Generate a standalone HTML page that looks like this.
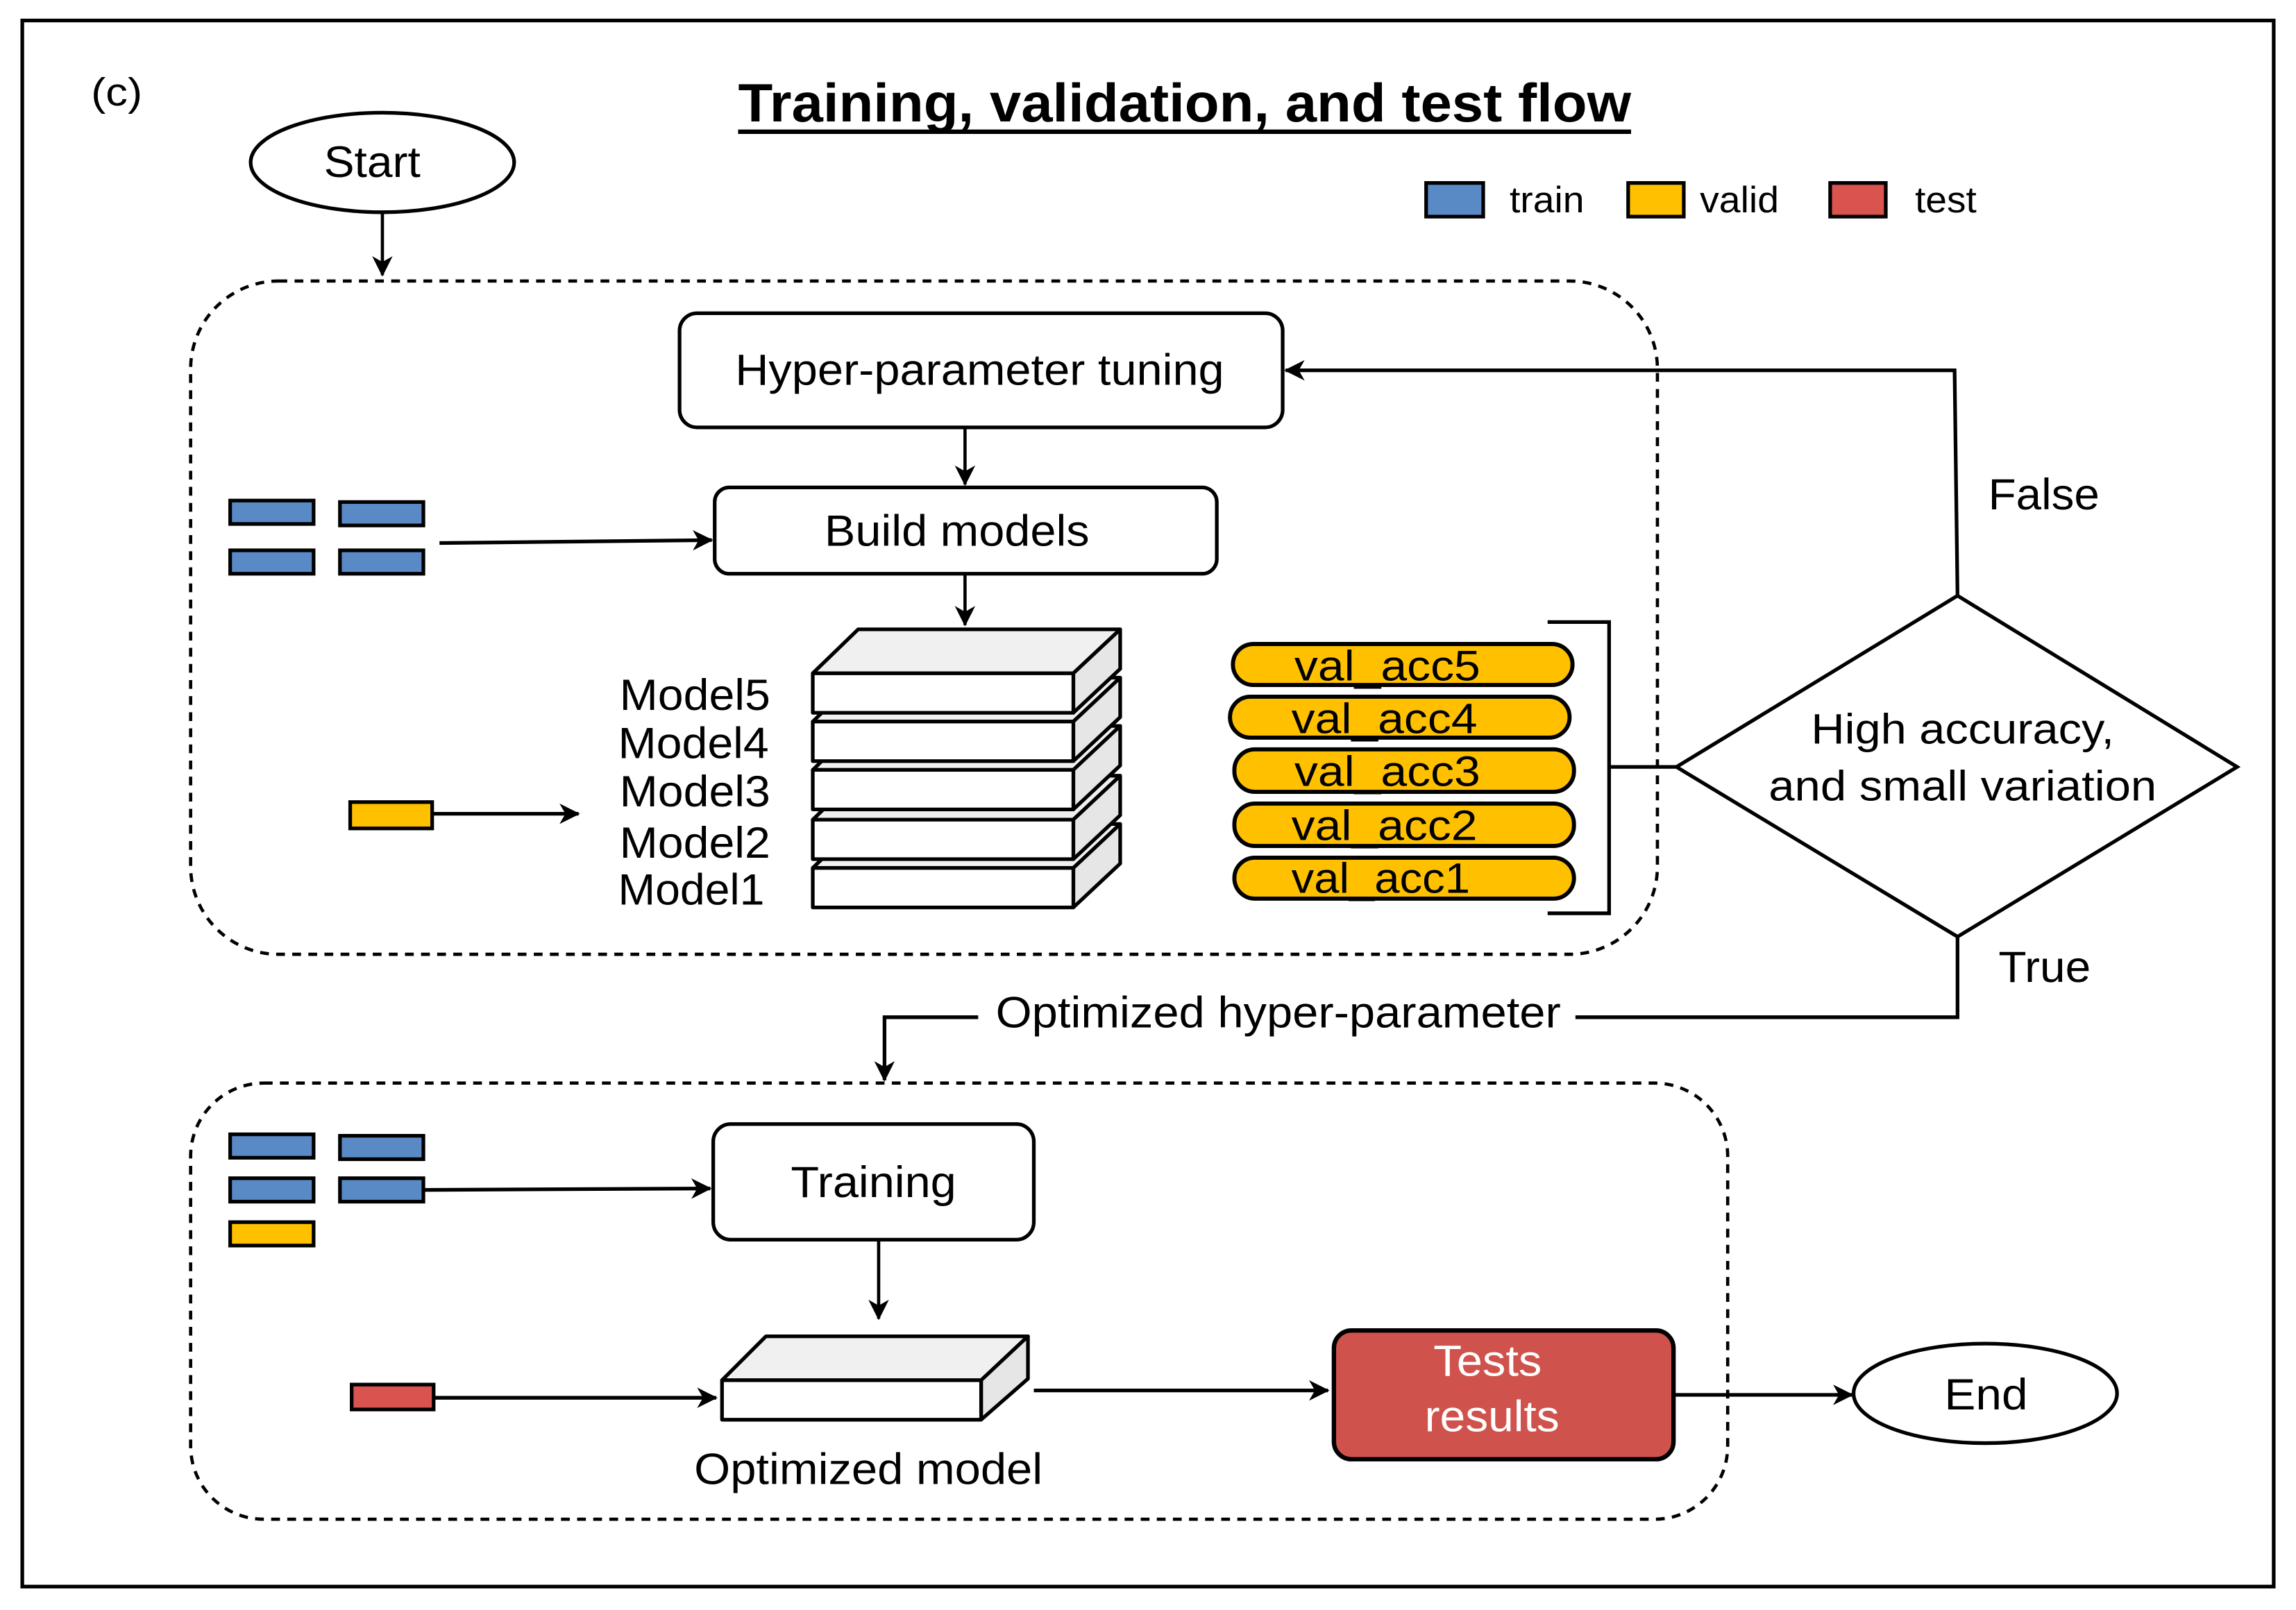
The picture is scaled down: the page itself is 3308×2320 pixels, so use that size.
<!DOCTYPE html>
<html><head><meta charset="utf-8"><style>html,body{margin:0;padding:0;background:#fff}svg{display:block}</style></head>
<body>
<svg width="3308" height="2320" viewBox="0 0 1568 1100" xmlns="http://www.w3.org/2000/svg" font-family="Liberation Sans, Arial, sans-serif">
<defs>
<marker id="a" markerWidth="14" markerHeight="14" refX="13" refY="7" orient="auto" markerUnits="userSpaceOnUse"><path d="M0,0 L14,7 L0,14 L4,7 z" fill="#000"/></marker>
</defs>
<rect x="0" y="0" width="1568" height="1100" fill="#fff"/>
<rect x="15" y="14" width="1538" height="1070" fill="none" stroke="#000" stroke-width="2.5"/>
<text x="62" y="72" font-size="27" textLength="35" lengthAdjust="spacingAndGlyphs">(c)</text>
<text x="504" y="83" font-size="37" font-weight="bold" textLength="610" lengthAdjust="spacingAndGlyphs">Training, validation, and test flow</text>
<line x1="504" y1="90" x2="1114" y2="90" stroke="#000" stroke-width="3"/>
<ellipse cx="261" cy="111" rx="90" ry="34" fill="#fff" stroke="#000" stroke-width="2.5"/>
<text x="221" y="121" font-size="30" textLength="66" lengthAdjust="spacingAndGlyphs">Start</text>
<line x1="261" y1="145" x2="261" y2="188" stroke="#000" stroke-width="2.2" marker-end="url(#a)"/>
<rect x="974" y="125" width="39" height="23" fill="#5a8ac6" stroke="#000" stroke-width="2.5"/>
<text x="1031" y="145" font-size="25" textLength="51" lengthAdjust="spacingAndGlyphs">train</text>
<rect x="1112" y="125" width="38" height="23" fill="#ffc000" stroke="#000" stroke-width="2.5"/>
<text x="1161" y="145" font-size="25" textLength="54" lengthAdjust="spacingAndGlyphs">valid</text>
<rect x="1250" y="125" width="38" height="23" fill="#d9534f" stroke="#000" stroke-width="2.5"/>
<text x="1308" y="145" font-size="25" textLength="42" lengthAdjust="spacingAndGlyphs">test</text>
<rect x="130" y="192" width="1002" height="460" rx="60" fill="none" stroke="#000" stroke-width="2.2" stroke-dasharray="6,5"/>
<rect x="464" y="214" width="412" height="78" rx="12" fill="#fff" stroke="#000" stroke-width="2.5"/>
<text x="502" y="263" font-size="30" textLength="334" lengthAdjust="spacingAndGlyphs">Hyper-parameter tuning</text>
<line x1="659" y1="292" x2="659" y2="331" stroke="#000" stroke-width="2.2" marker-end="url(#a)"/>
<rect x="488" y="333" width="343" height="59" rx="10" fill="#fff" stroke="#000" stroke-width="2.5"/>
<text x="563" y="373" font-size="30" textLength="181" lengthAdjust="spacingAndGlyphs">Build models</text>
<line x1="659" y1="392" x2="659" y2="427" stroke="#000" stroke-width="2.2" marker-end="url(#a)"/>
<g fill="#5a8ac6" stroke="#000" stroke-width="2.5">
<rect x="157" y="342" width="57" height="16"/><rect x="232" y="343" width="57" height="16"/>
<rect x="157" y="376" width="57" height="16"/><rect x="232" y="376" width="57" height="16"/>
</g>
<line x1="300" y1="371" x2="486" y2="369" stroke="#000" stroke-width="2.5" marker-end="url(#a)"/>
<g stroke="#000" stroke-width="2.5" stroke-linejoin="round">
<polygon points="555,593 586,563 765,563 733,593" fill="#f0f0f0"/><polygon points="733,593 765,563 765,590 733,620" fill="#e6e6e6"/><rect x="555" y="593" width="178" height="27" fill="#fff"/>
<polygon points="555,560 586,530 765,530 733,560" fill="#f0f0f0"/><polygon points="733,560 765,530 765,557 733,587" fill="#e6e6e6"/><rect x="555" y="560" width="178" height="27" fill="#fff"/>
<polygon points="555,526 586,496 765,496 733,526" fill="#f0f0f0"/><polygon points="733,526 765,496 765,523 733,553" fill="#e6e6e6"/><rect x="555" y="526" width="178" height="27" fill="#fff"/>
<polygon points="555,493 586,463 765,463 733,493" fill="#f0f0f0"/><polygon points="733,493 765,463 765,490 733,520" fill="#e6e6e6"/><rect x="555" y="493" width="178" height="27" fill="#fff"/>
<polygon points="555,460 586,430 765,430 733,460" fill="#f0f0f0"/><polygon points="733,460 765,430 765,457 733,487" fill="#e6e6e6"/><rect x="555" y="460" width="178" height="27" fill="#fff"/>
</g>
<g font-size="30" lengthAdjust="spacingAndGlyphs">
<text x="423" y="485" textLength="103" lengthAdjust="spacingAndGlyphs">Model5</text><text x="422" y="518" textLength="103" lengthAdjust="spacingAndGlyphs">Model4</text><text x="423" y="551" textLength="103" lengthAdjust="spacingAndGlyphs">Model3</text><text x="423" y="586" textLength="103" lengthAdjust="spacingAndGlyphs">Model2</text><text x="422" y="618" textLength="100" lengthAdjust="spacingAndGlyphs">Model1</text>
</g>
<rect x="239" y="548" width="56" height="18" fill="#ffc000" stroke="#000" stroke-width="2.5"/>
<line x1="295" y1="556" x2="395" y2="556" stroke="#000" stroke-width="2.5" marker-end="url(#a)"/>
<g fill="#ffc000" stroke="#000" stroke-width="2.8">
<rect x="842" y="440" width="232" height="28" rx="14"/><rect x="840" y="476" width="232" height="28" rx="14"/><rect x="843" y="512" width="232" height="29" rx="14"/><rect x="843" y="549" width="232" height="29" rx="14"/><rect x="843" y="586" width="232" height="28" rx="14"/>
</g>
<g font-size="29">
<text x="884" y="465" textLength="127" lengthAdjust="spacingAndGlyphs">val_acc5</text><text x="882" y="501" textLength="127" lengthAdjust="spacingAndGlyphs">val_acc4</text><text x="884" y="537" textLength="127" lengthAdjust="spacingAndGlyphs">val_acc3</text><text x="882" y="574" textLength="127" lengthAdjust="spacingAndGlyphs">val_acc2</text><text x="882" y="610" textLength="122" lengthAdjust="spacingAndGlyphs">val_acc1</text>
</g>
<polyline points="1057,425 1099,425 1099,624 1057,624" fill="none" stroke="#000" stroke-width="2.5"/>
<line x1="1099" y1="524" x2="1145" y2="524" stroke="#000" stroke-width="2.5"/>
<polygon points="1337,407 1528,524 1337,640 1145,524" fill="#fff" stroke="#000" stroke-width="2.5"/>
<text x="1237" y="508" font-size="29" textLength="207" lengthAdjust="spacingAndGlyphs">High accuracy,</text>
<text x="1208" y="547" font-size="29" textLength="265" lengthAdjust="spacingAndGlyphs">and small variation</text>
<polyline points="1337,407 1335,253 878,253" fill="none" stroke="#000" stroke-width="2.5" marker-end="url(#a)"/>
<text x="1358" y="348" font-size="30" textLength="76" lengthAdjust="spacingAndGlyphs">False</text>
<polyline points="1337,640 1337,695 1076,695" fill="none" stroke="#000" stroke-width="2.5"/>
<text x="1365" y="671" font-size="30" textLength="63" lengthAdjust="spacingAndGlyphs">True</text>
<text x="680" y="702" font-size="30" textLength="386" lengthAdjust="spacingAndGlyphs">Optimized hyper-parameter</text>
<polyline points="668,695 604,695 604,738" fill="none" stroke="#000" stroke-width="2.5" marker-end="url(#a)"/>
<rect x="130" y="740" width="1050" height="298" rx="50" fill="none" stroke="#000" stroke-width="2.2" stroke-dasharray="6,5"/>
<g fill="#5a8ac6" stroke="#000" stroke-width="2.5">
<rect x="157" y="775" width="57" height="16"/><rect x="232" y="776" width="57" height="16"/>
<rect x="157" y="805" width="57" height="16"/><rect x="232" y="805" width="57" height="16"/>
</g>
<rect x="157" y="835" width="57" height="16" fill="#ffc000" stroke="#000" stroke-width="2.5"/>
<line x1="289" y1="813" x2="485" y2="812" stroke="#000" stroke-width="2.5" marker-end="url(#a)"/>
<rect x="487" y="768" width="219" height="79" rx="12" fill="#fff" stroke="#000" stroke-width="2.5"/>
<text x="540" y="818" font-size="30" textLength="113" lengthAdjust="spacingAndGlyphs">Training</text>
<line x1="600" y1="847" x2="600" y2="901" stroke="#000" stroke-width="2.2" marker-end="url(#a)"/>
<g stroke="#000" stroke-width="2.5" stroke-linejoin="round">
<polygon points="493,943 523,913 702,913 670,943" fill="#f0f0f0"/>
<polygon points="670,943 702,913 702,942 670,970" fill="#e6e6e6"/>
<rect x="493" y="943" width="177" height="27" fill="#fff"/>
</g>
<text x="474" y="1014" font-size="30" textLength="238" lengthAdjust="spacingAndGlyphs">Optimized model</text>
<rect x="240" y="946" width="56" height="17" fill="#d9534f" stroke="#000" stroke-width="2.5"/>
<line x1="296" y1="955" x2="489" y2="955" stroke="#000" stroke-width="2.5" marker-end="url(#a)"/>
<line x1="706" y1="950" x2="907" y2="950" stroke="#000" stroke-width="2.5" marker-end="url(#a)"/>
<rect x="911" y="909" width="232" height="88" rx="12" fill="#d0524c" stroke="#000" stroke-width="3"/>
<text x="979" y="940" font-size="30" fill="#fff" textLength="74" lengthAdjust="spacingAndGlyphs">Tests</text>
<text x="973" y="978" font-size="30" fill="#fff" textLength="92" lengthAdjust="spacingAndGlyphs">results</text>
<line x1="1143" y1="953" x2="1265" y2="953" stroke="#000" stroke-width="2.5" marker-end="url(#a)"/>
<ellipse cx="1356" cy="952" rx="90" ry="34" fill="#fff" stroke="#000" stroke-width="2.5"/>
<text x="1328" y="963" font-size="30" textLength="57" lengthAdjust="spacingAndGlyphs">End</text>
</svg>
</body></html>
